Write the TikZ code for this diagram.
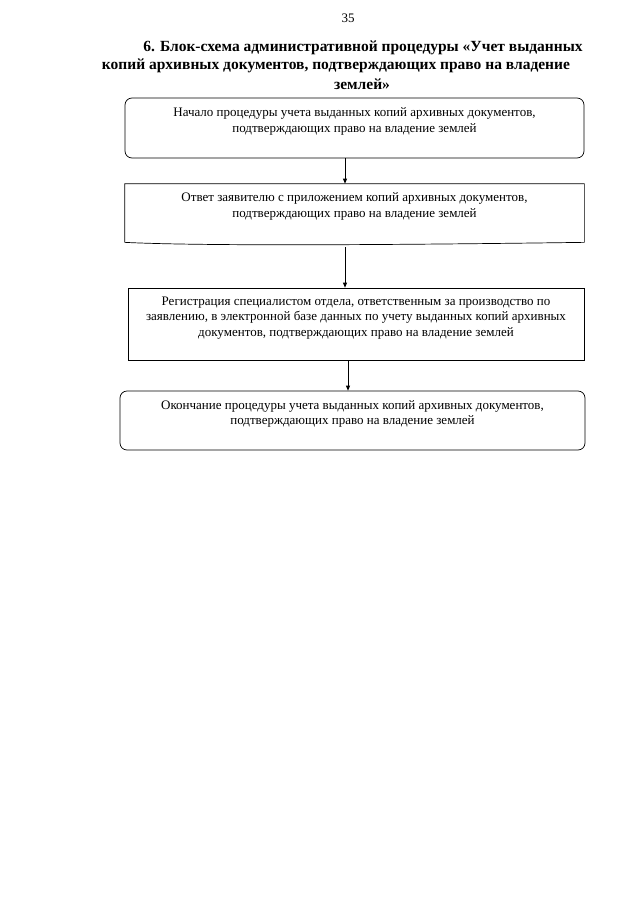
\documentclass[tikz,border=0pt]{standalone}
\usepackage{fontspec}
\setmainfont{Liberation Serif}
\usetikzlibrary{arrows.meta,positioning,calc}

\begin{document}
\begin{tikzpicture}[
  x=1pt, y=1pt,
  box/.style={draw, line width=0.7pt, align=center, minimum width=459pt, minimum height=60pt, inner sep=2pt, font=\fontsize{13}{15.5}\selectfont},
  rbox/.style={box, rounded corners=7pt},
  heading/.style={align=center, font=\fontsize{15.5}{18}\selectfont\bfseries},
  arr/.style={-{Triangle[length=5pt,width=4pt]}, line width=0.7pt}
]
\useasboundingbox (0,0) rectangle (640,-905);

\node[font=\fontsize{13}{15}\selectfont] (pagenum) at (348,-18) {35};

\node[heading] (t1) at (363,-48) {6. Блок-схема административной процедуры «Учет выданных};
\node[heading] (t2) at (336,-66) {копий архивных документов, подтверждающих право на владение};
\node[heading] (t3) at (362,-84) {землей»};

\node[rbox] (start) at (354.5,-128) {Начало процедуры учета выданных копий архивных документов,\\подтверждающих право на владение землей\\ \mbox{}};

\node[box, draw=none, minimum height=58pt] (answer) at (354.5,-213) {Ответ заявителю с приложением копий архивных документов,\\подтверждающих право на владение землей\\ \mbox{}};
\draw[line width=0.7pt] (answer.south west) -- (answer.north west) -- (answer.north east) -- (answer.south east)
  .. controls +(-220,-3) and +(70,-3.5) .. (answer.south west);

\node[box, minimum width=456pt, minimum height=72pt] (register) at (356,-324) {Регистрация специалистом отдела, ответственным за производство по\\заявлению, в электронной базе данных по учету выданных копий архивных\\документов, подтверждающих право на владение землей\\ \mbox{}};

\node[rbox, minimum width=465pt, minimum height=59pt] (finish) at (352.5,-420.5) {Окончание процедуры учета выданных копий архивных документов,\\подтверждающих право на владение землей\\ \mbox{}};

\draw[arr] ([xshift=-9.5pt]start.south) -- ([xshift=-9.5pt]start.south |- answer.north);
\draw[arr] ([xshift=-9.5pt,yshift=-5pt]answer.south) -- ([xshift=-9.5pt]answer.south |- register.north);
\draw[arr] ([xshift=-8pt]register.south) -- ([xshift=-8pt]register.south |- finish.north);

\end{tikzpicture}
\end{document}
